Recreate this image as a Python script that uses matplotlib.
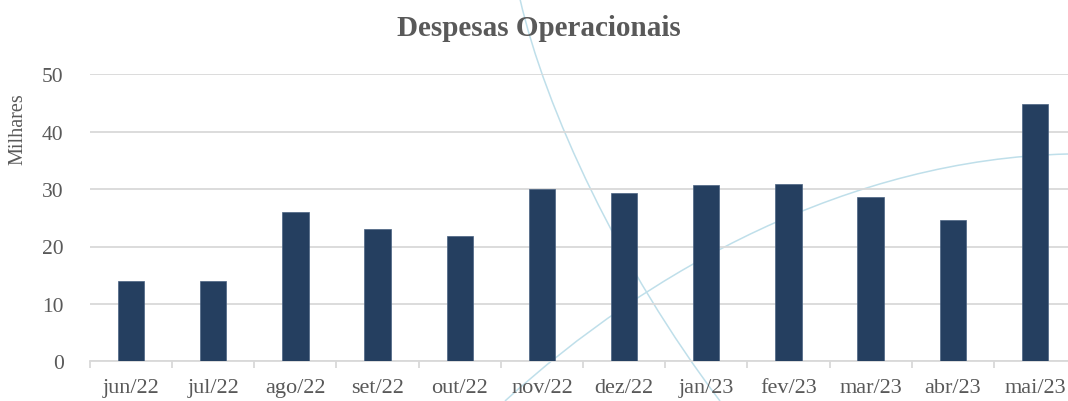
import matplotlib
matplotlib.use("Agg")
import matplotlib.pyplot as plt
from matplotlib.path import Path
from matplotlib.patches import PathPatch
import numpy as np

# data (thousands)
months = ["jun/22", "jul/22", "ago/22", "set/22", "out/22", "nov/22",
          "dez/22", "jan/23", "fev/23", "mar/23", "abr/23", "mai/23"]
expenses = [14.0, 14.0, 26.0, 23.05, 21.9, 30.0, 29.3, 30.8, 30.9, 28.7, 24.7, 44.8]
yticks = [0, 10, 20, 30, 40, 50]

plt.rcParams['font.family'] = ['Liberation Serif', 'DejaVu Serif']
text_col = "#595959"
grid_col = "#D9D9D9"
bar_col = "#253F60"

W, H = 1068, 402
fig = plt.figure(figsize=(W / 100, H / 100), dpi=100)

# decorative background arcs (slide template), in pixel space -> figure fraction
def arc(pts):
    verts = [(x / W, 1 - y / H) for x, y in pts]
    codes = [Path.MOVETO, Path.CURVE4, Path.CURVE4, Path.CURVE4]
    return PathPatch(Path(verts, codes), transform=fig.transFigure, fill=False,
                     edgecolor="#BFDFEA", lw=1.1, zorder=0)

ax = fig.add_axes([90 / W, 1 - 362.3 / H, 986 / W, (362.3 - 75.3) / H])
ax.set_zorder(1)
ax.patch.set_alpha(0)

x = np.arange(len(months))
ax.bar(x, expenses, width=0.32, color=bar_col, edgecolor="#4A6282", linewidth=0.5, zorder=3)

ax.set_xlim(-0.5, len(months) - 0.5)
ax.set_ylim(0, 50)
ax.set_yticks(yticks)
ax.set_xticks(x)
ax.set_xticklabels(months)
ax.set_xticks(np.arange(-0.5, len(months)), minor=True)

ax.grid(axis="y", color=grid_col, lw=1.3, zorder=0)
for s in ["top", "right", "left"]:
    ax.spines[s].set_visible(False)
ax.spines["bottom"].set_color(grid_col)
ax.spines["bottom"].set_linewidth(1.3)

ax.tick_params(axis="y", length=0, pad=19, labelsize=15.5, labelcolor=text_col)
ax.tick_params(axis="x", which="major", length=0, pad=12, labelsize=16, labelcolor=text_col)
ax.tick_params(axis="x", which="minor", length=5, width=1.3, color=grid_col)

fig.patches.append(arc([(520, 0), (545, 110), (620, 270), (720, 402)]))
fig.patches.append(arc([(505, 402), (650, 270), (850, 160), (1068, 155)]))

fig.text(539 / W, 1 - 28 / H, "Despesas Operacionais", ha="center", va="center",
         fontsize=21, fontweight="bold", color=text_col)
fig.text(18 / W, 1 - 129 / H, "Milhares", rotation=90, ha="center", va="center",
         fontsize=14.5, color=text_col)

fig.savefig("out.png", dpi=100)
